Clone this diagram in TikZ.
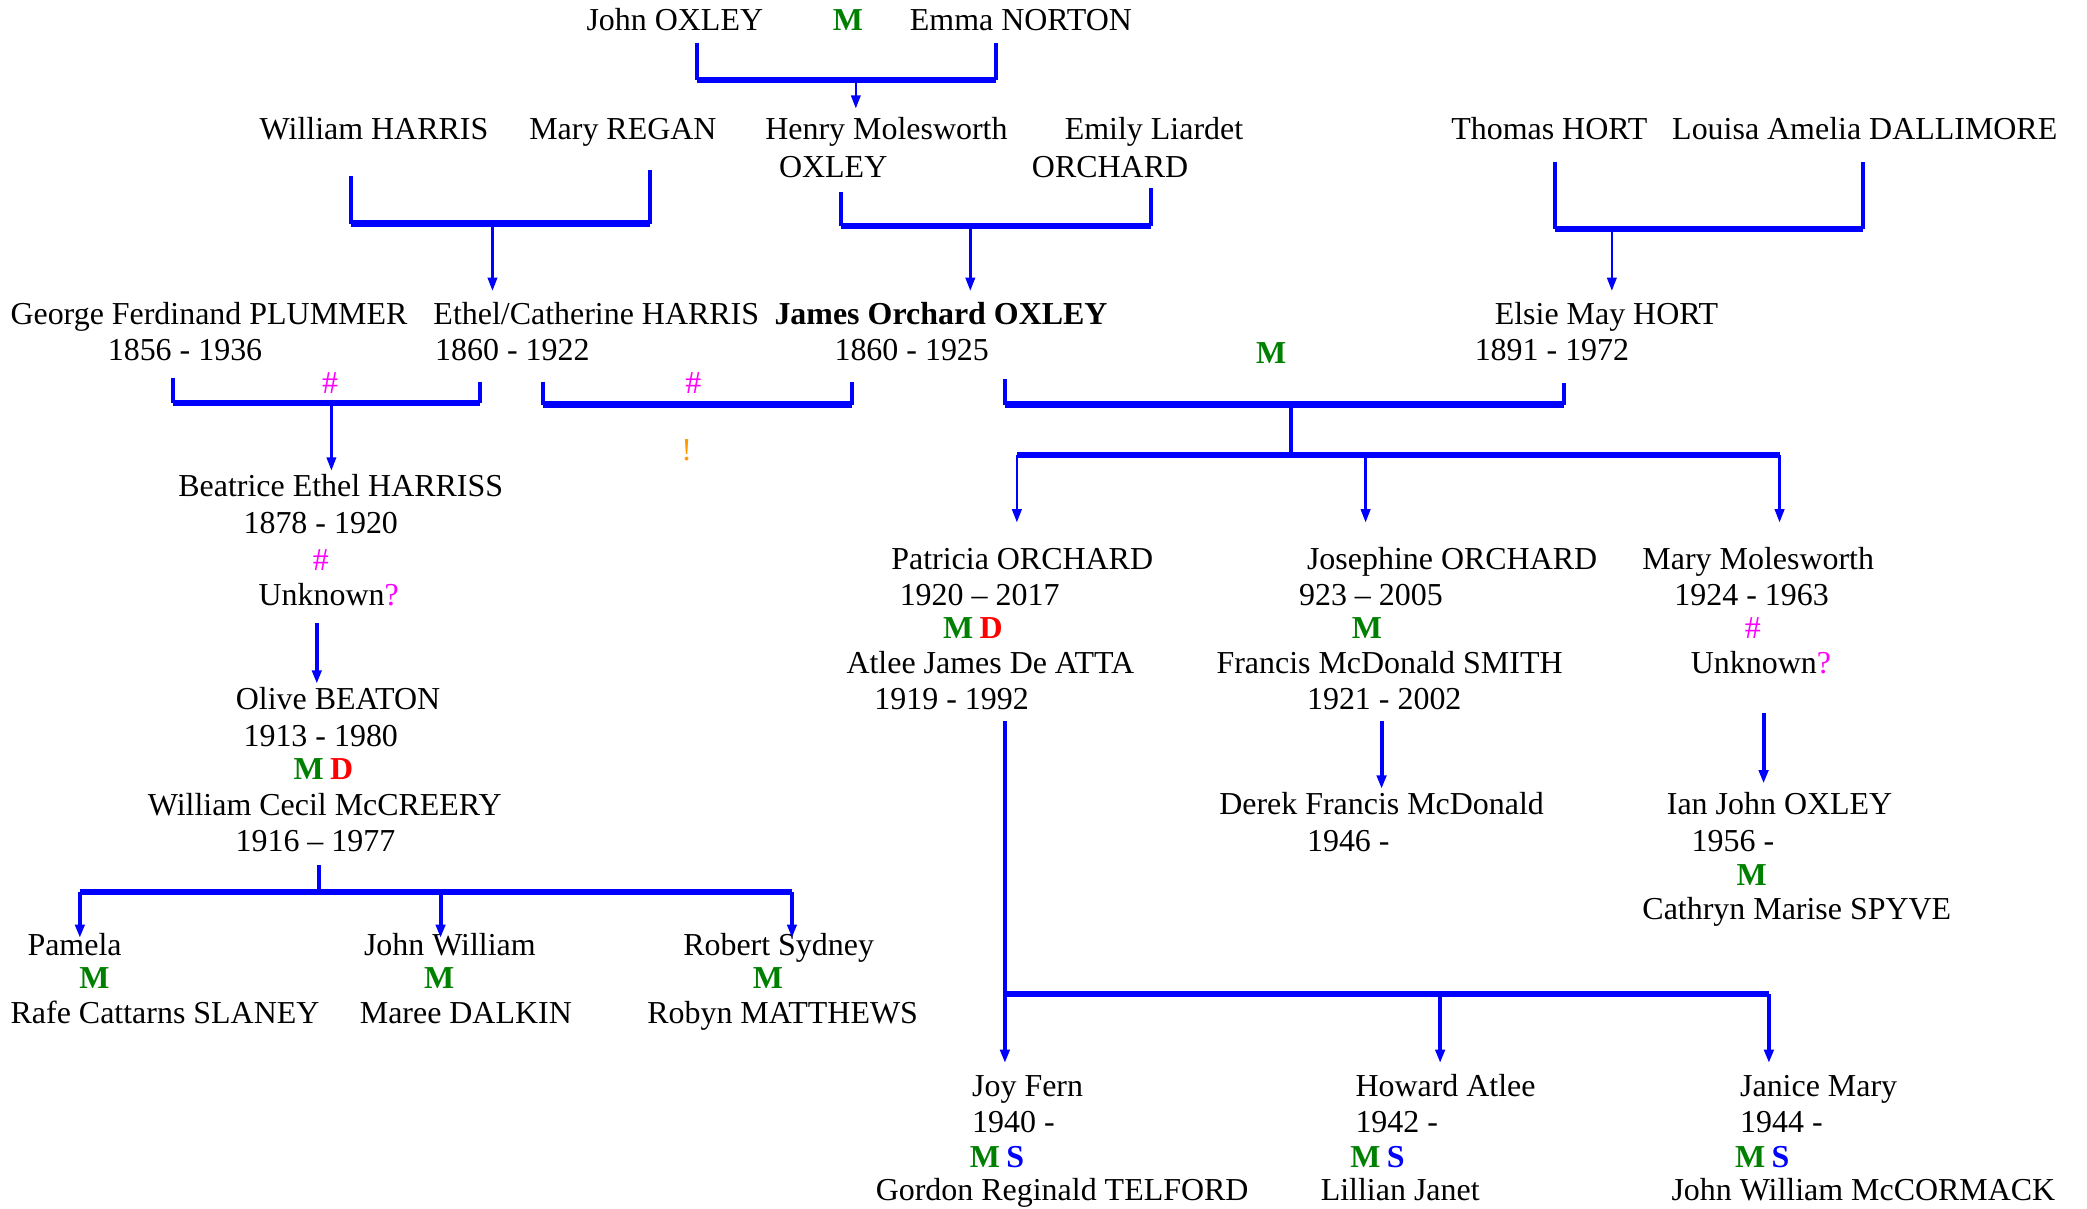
\documentclass[tikz,border=0pt]{standalone}
\usepackage{fontspec}
\setmainfont{Liberation Serif}
\usepackage{tikz}
\usetikzlibrary{arrows.meta}
\definecolor{mgreen}{RGB}{0,128,0}
\definecolor{mred}{RGB}{255,0,0}
\definecolor{mpink}{RGB}{255,0,255}
\definecolor{morange}{RGB}{255,153,0}
\definecolor{mblue}{RGB}{0,0,255}
\newcommand{\Mar}{\textcolor{mgreen}{\textbf{M}}}
\newcommand{\Div}{\textcolor{mred}{\textbf{D}}}
\newcommand{\Sep}{\textcolor{mblue}{\textbf{S}}}
\newcommand{\Hsh}{\textcolor{mpink}{\#}}
\newcommand{\Qm}{\textcolor{mpink}{?}}

\begin{document}
\begin{tikzpicture}
            [x=0.5pt,y=-0.5pt,font=\fontsize{12}{14}\selectfont,
             every node/.style={inner sep=1pt,text height=8.5pt,text depth=2.5pt,yshift=-1pt},
             leg/.style={draw=mblue,line width=1.5pt},
             bar/.style={draw=mblue,line width=2.4pt},
             down/.style={draw=mblue,line width=1pt,-{Triangle[width=3.5pt,length=5pt]}},
             longdown/.style={down,line width=1.5pt}]
            \useasboundingbox (0,0) rectangle (1568,908);
            % top couple
            \node (john) at (507,15) {John OXLEY};
            \node (m1) at (637,15) {\Mar};
            \node (emma) at (767,15) {Emma NORTON};
            % second row
            \node (william) at (281,97) {William HARRIS};
            \node (mary) at (468,97) {Mary REGAN};
            \node (henry) at (666,97) {Henry Molesworth};
            \node (henryb) at (626,125) {OXLEY};
            \node (emily) at (867,97) {Emily Liardet};
            \node (emilyb) at (834,125) {ORCHARD};
            \node (thomas) at (1164,97) {Thomas HORT};
            \node (louisa) at (1401,97) {Louisa Amelia DALLIMORE};
            % third row
            \node (george) at (157,236) {George Ferdinand PLUMMER};
            \node (georgeb) at (139,263) {1856 - 1936};
            \node (ethel) at (448,236) {Ethel/Catherine HARRIS};
            \node (ethelb) at (385,263) {1860 - 1922};
            \node (james) at (707,236) {\textbf{James Orchard OXLEY}};
            \node (jamesb) at (685,263) {1860 - 1925};
            \node (m2) at (955,265) {\Mar};
            \node (elsie) at (1207,236) {Elsie May HORT};
            \node (elsieb) at (1166,263) {1891 - 1972};
            \node (h1) at (248,288) {\Hsh};
            \node (h2) at (521,288) {\Hsh};
            \node (bang) at (516,338) {\textcolor{morange}{!}};
            % Beatrice line
            \node (beatrice) at (256,365) {Beatrice Ethel HARRISS};
            \node (beatriceb) at (241,393) {1878 - 1920};
            \node (h3) at (241,421) {\Hsh};
            \node (unk1) at (247,447) {Unknown\Qm};
            \node (olive) at (254,525) {Olive BEATON};
            \node (oliveb) at (241,553) {1913 - 1980};
            \node (md1) at (243,578) {\Mar\hspace{0.2em}\Div};
            \node (cecil) at (244,605) {William Cecil McCREERY};
            \node (cecilb) at (237,632) {1916 -- 1977};
            \node (pamela) at (56,710) {Pamela};
            \node (m3) at (71,735) {\Mar};
            \node (rafe) at (124,761) {Rafe Cattarns SLANEY};
            \node (johnw) at (338,710) {John William};
            \node (m4) at (330,735) {\Mar};
            \node (maree) at (350,761) {Maree DALKIN};
            \node (robert) at (585,710) {Robert Sydney};
            \node (m5) at (577,735) {\Mar};
            \node (robyn) at (588,761) {Robyn MATTHEWS};
            % children of James and Elsie
            \node (patricia) at (768,420) {Patricia ORCHARD};
            \node (patriciab) at (736,447) {1920 -- 2017};
            \node (md2) at (731,472) {\Mar\hspace{0.2em}\Div};
            \node (atlee) at (744,498) {Atlee James De ATTA};
            \node (atleeb) at (715,525) {1919 - 1992};
            \node (josephine) at (1091,420) {Josephine ORCHARD};
            \node (josephineb) at (1030,447) {923 -- 2005};
            \node (m6) at (1027,472) {\Mar};
            \node (francis) at (1044,498) {Francis McDonald SMITH};
            \node (francisb) at (1040,525) {1921 - 2002};
            \node (marym) at (1321,420) {Mary Molesworth};
            \node (marymb) at (1316,447) {1924 - 1963};
            \node (h4) at (1317,472) {\Hsh};
            \node (unk2) at (1323,498) {Unknown\Qm};
            \node (derek) at (1038,604) {Derek Francis McDonald};
            \node (derekb) at (1013,632) {1946 -};
            \node (ian) at (1337,604) {Ian John OXLEY};
            \node (ianb) at (1302,632) {1956 -};
            \node (m7) at (1316,657) {\Mar};
            \node (cathryn) at (1350,683) {Cathryn Marise SPYVE};
            % grandchildren
            \node[anchor=west] (joy) at (728,816) {Joy Fern};
            \node[anchor=west] (joyb) at (728,843) {1940 -};
            \node (ms1) at (749,869) {\Mar\hspace{0.2em}\Sep};
            \node (gordon) at (798,894) {Gordon Reginald TELFORD};
            \node[anchor=west] (howard) at (1016,816) {Howard Atlee};
            \node[anchor=west] (howardb) at (1016,843) {1942 -};
            \node (ms2) at (1035,869) {\Mar\hspace{0.2em}\Sep};
            \node (lillian) at (1052,894) {Lillian Janet};
            \node[anchor=west] (janice) at (1305,816) {Janice Mary};
            \node[anchor=west] (janiceb) at (1305,843) {1944 -};
            \node (ms3) at (1324,869) {\Mar\hspace{0.2em}\Sep};
            \node (mccormack) at (1400,894) {John William McCORMACK};

            % John + Emma
            \coordinate (a1) at (524,30); \coordinate (a2) at (748,30); \coordinate (aj) at (643,58);
            \draw[leg] (a1) -- (a1 |- aj); \draw[leg] (a2) -- (a2 |- aj);
            \draw[bar] (a1 |- aj) -- (a2 |- aj);
            \draw[down,shorten >=2pt] (aj) -- (aj |- henry.north);
            % William + Mary
            \coordinate (b1) at (264,130); \coordinate (b2) at (488,126); \coordinate (bj) at (370,166);
            \draw[leg] (b1) -- (b1 |- bj); \draw[leg] (b2) -- (b2 |- bj);
            \draw[bar] (b1 |- bj) -- (b2 |- bj);
            \draw[down,shorten >=3pt] (bj) -- (bj |- ethel.north);
            % Henry + Emily
            \coordinate (c1) at (632,142); \coordinate (c2) at (865,139); \coordinate (cj) at (729,168);
            \draw[leg] (c1) -- (c1 |- cj); \draw[leg] (c2) -- (c2 |- cj);
            \draw[bar] (c1 |- cj) -- (c2 |- cj);
            \draw[down,shorten >=3pt] (cj) -- (cj |- james.north);
            % Thomas + Louisa
            \coordinate (d1) at (1168,120); \coordinate (d2) at (1400,120); \coordinate (dj) at (1211,170);
            \draw[leg] (d1) -- (d1 |- dj); \draw[leg] (d2) -- (d2 |- dj);
            \draw[bar] (d1 |- dj) -- (d2 |- dj);
            \draw[down,shorten >=3pt] (dj) -- (dj |- elsie.north);
            % George + Ethel
            \coordinate (e1) at (130,282); \coordinate (e2) at (361,285); \coordinate (ej) at (249,301);
            \draw[leg] (e1) -- (e1 |- ej); \draw[leg] (e2) -- (e2 |- ej);
            \draw[bar] (e1 |- ej) -- (e2 |- ej);
            \draw[down] (ej) -- (ej |- beatrice.north);
            % Ethel + James
            \coordinate (f1) at (408,285); \coordinate (f2) at (640,285); \coordinate (fj) at (524,302);
            \draw[leg] (f1) -- (f1 |- fj); \draw[leg] (f2) -- (f2 |- fj);
            \draw[bar] (f1 |- fj) -- (f2 |- fj);
            % James + Elsie
            \coordinate (g1) at (755,283); \coordinate (g2) at (1175,286); \coordinate (gj) at (970,302);
            \coordinate (gk) at (970,340);
            \draw[leg] (g1) -- (g1 |- gj); \draw[leg] (g2) -- (g2 |- gj);
            \draw[bar] (g1 |- gj) -- (g2 |- gj);
            \draw[leg] (gj) -- (gk);
            \coordinate (g3) at (764,340); \coordinate (g4) at (1026,340); \coordinate (g5) at (1337,340);
            \draw[bar] (g3) -- (g5);
            \draw[down,shorten >=8pt] (g3) -- (g3 |- patricia.north);
            \draw[down,shorten >=8pt] (g4) -- (g4 |- josephine.north);
            \draw[down,shorten >=8pt] (g5) -- (g5 |- marym.north);
            % Beatrice + Unknown
            \coordinate (k1) at (238,466);
            \draw[longdown] (k1) -- (k1 |- olive.north);
            % Olive + William Cecil
            \coordinate (l1) at (240,648); \coordinate (lj) at (240,668);
            \coordinate (l2) at (60,668); \coordinate (l3) at (331,668); \coordinate (l4) at (595,668);
            \draw[leg] (l1) -- (lj);
            \draw[bar] (l2) -- (l4);
            \draw[longdown,shorten >=-3pt] (l2) -- (l2 |- pamela.north);
            \draw[longdown,shorten >=-3pt] (l3) -- (l3 |- johnw.north);
            \draw[longdown,shorten >=-3pt] (l4) -- (l4 |- robert.north);
            % Patricia + Atlee
            \coordinate (p1) at (755,540); \coordinate (pj) at (755,745);
            \coordinate (p2) at (1082,745); \coordinate (p3) at (1329,745);
            \draw[bar] (pj) -- (p3);
            \draw[longdown,shorten >=3pt] (p1) -- (p1 |- joy.north);
            \draw[longdown,shorten >=3pt] (p2) -- (p2 |- howard.north);
            \draw[longdown,shorten >=3pt] (p3) -- (p3 |- janice.north);
            % Josephine + Francis
            \coordinate (q1) at (1038,540);
            \draw[longdown] (q1) -- (q1 |- derek.north);
            % Mary + Unknown
            \coordinate (r1) at (1325,534);
            \draw[longdown,shorten >=2pt] (r1) -- (r1 |- ian.north);
        \end{tikzpicture}
\end{document}
